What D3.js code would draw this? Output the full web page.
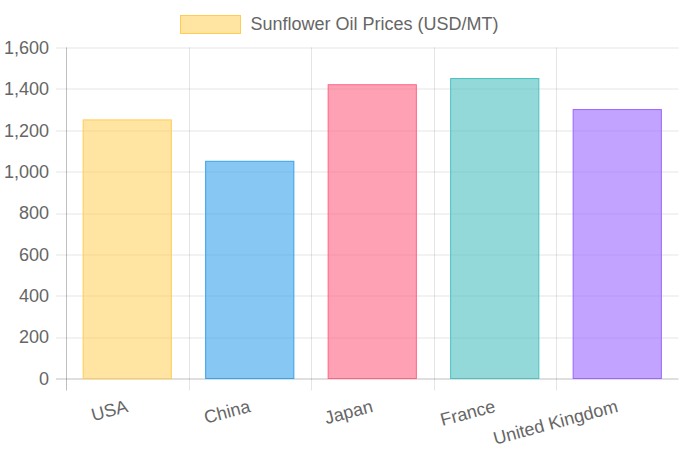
<!DOCTYPE html>
<html>
<head>
<meta charset="utf-8">
<script src="https://cdn.jsdelivr.net/npm/d3@7"></script>
<style>
  html, body { margin: 0; padding: 0; background: #fff; }
  svg { display: block; font-family: "Liberation Sans", Arial, sans-serif; }
</style>
</head>
<body>
<div id="wrapper"></div>
<script>
// data
const countries = ['USA', 'China', 'Japan', 'France', 'United Kingdom']
const prices = [1250, 1050, 1420, 1450, 1300]
const yTicks = [0, 200, 400, 600, 800, 1000, 1200, 1400, 1600]
const seriesName = 'Sunflower Oil Prices (USD/MT)'

const fills = ['rgba(255,205,86,0.55)', 'rgba(54,162,235,0.6)', 'rgba(255,99,132,0.6)', 'rgba(75,192,192,0.6)', 'rgba(153,102,255,0.6)']
const strokes = ['rgb(255,205,86)', 'rgb(54,162,235)', 'rgb(255,99,132)', 'rgb(75,192,192)', 'rgb(153,102,255)']

const dimensions = {
  width: 679,
  height: 453,
  margin: { top: 47.5, right: 0.5, bottom: 74.5, left: 66 }
}
dimensions.boundedWidth = dimensions.width - dimensions.margin.left - dimensions.margin.right
dimensions.boundedHeight = dimensions.height - dimensions.margin.top - dimensions.margin.bottom

const fontSize = 18
const textColor = '#666'
const gridColor = 'rgba(0,0,0,0.1)'

const xScale = d3.scaleBand()
  .domain(countries)
  .range([0, dimensions.boundedWidth])
  .paddingInner(0)
  .paddingOuter(0)

const yScale = d3.scaleLinear()
  .domain([0, 1600])
  .range([dimensions.boundedHeight, 0])

const svg = d3.select('#wrapper')
  .append('svg')
  .attr('width', dimensions.width)
  .attr('height', dimensions.height)

const bounds = svg.append('g')
  .attr('transform', `translate(${dimensions.margin.left}, ${dimensions.margin.top})`)

/* GRID */
const grid = bounds.append('g')
grid.selectAll('line.h')
  .data(yTicks)
  .join('line')
  .attr('class', 'h')
  .attr('x1', -10)
  .attr('x2', dimensions.boundedWidth)
  .attr('y1', d => Math.round(yScale(d)) + 0.5)
  .attr('y2', d => Math.round(yScale(d)) + 0.5)
  .attr('stroke', d => d === 0 ? 'rgba(0,0,0,0.25)' : gridColor)

const bandEdges = countries.map(c => xScale(c)).concat([dimensions.boundedWidth])
grid.selectAll('line.v')
  .data(bandEdges)
  .join('line')
  .attr('class', 'v')
  .attr('x1', d => Math.round(d) + 0.5)
  .attr('x2', d => Math.round(d) + 0.5)
  .attr('y1', 0)
  .attr('y2', dimensions.boundedHeight + 12)
  .attr('stroke', (d, i) => i === 0 ? 'rgba(0,0,0,0.25)' : gridColor)

/* BARS */
const barWidth = xScale.bandwidth() * 0.72
bounds.append('g')
  .selectAll('rect')
  .data(prices)
  .join('rect')
  .attr('x', (d, i) => xScale(countries[i]) + (xScale.bandwidth() - barWidth) / 2)
  .attr('y', d => yScale(d))
  .attr('width', barWidth)
  .attr('height', d => yScale(0) - yScale(d))
  .attr('fill', (d, i) => fills[i])
  .attr('stroke', (d, i) => strokes[i])
  .attr('stroke-width', 1)

/* Y AXIS LABELS */
const fmt = d3.format(',')
bounds.append('g')
  .attr('text-anchor', 'end')
  .attr('fill', textColor)
  .attr('font-size', fontSize)
  .selectAll('text')
  .data(yTicks)
  .join('text')
  .attr('x', -17)
  .attr('y', d => yScale(d))
  .attr('dy', '0.35em')
  .text(fmt)

/* X AXIS LABELS */
bounds.append('g')
  .attr('text-anchor', 'end')
  .attr('fill', textColor)
  .attr('font-size', fontSize)
  .selectAll('text')
  .data(countries)
  .join('text')
  .attr('transform', d => `translate(${xScale(d) + xScale.bandwidth() / 2}, ${dimensions.boundedHeight + 27}) rotate(-15)`)
  .attr('dy', '0.35em')
  .text(d => d)

/* LEGEND */
const boxW = 60
const legend = svg.append('g')
const legendText = legend.append('text')
  .attr('fill', textColor)
  .attr('font-size', fontSize)
  .attr('y', 24)
  .attr('dy', '0.35em')
  .text(seriesName)
const textWidth = legendText.node().getComputedTextLength()
const legendWidth = boxW + 10 + textWidth
const legendX = (dimensions.width - legendWidth) / 2
legend.append('rect')
  .attr('x', Math.round(legendX) + 0.5)
  .attr('y', 15.5)
  .attr('width', boxW)
  .attr('height', 18)
  .attr('fill', fills[0])
  .attr('stroke', strokes[0])
legendText.attr('x', legendX + boxW + 10)
</script>
</body>
</html>
